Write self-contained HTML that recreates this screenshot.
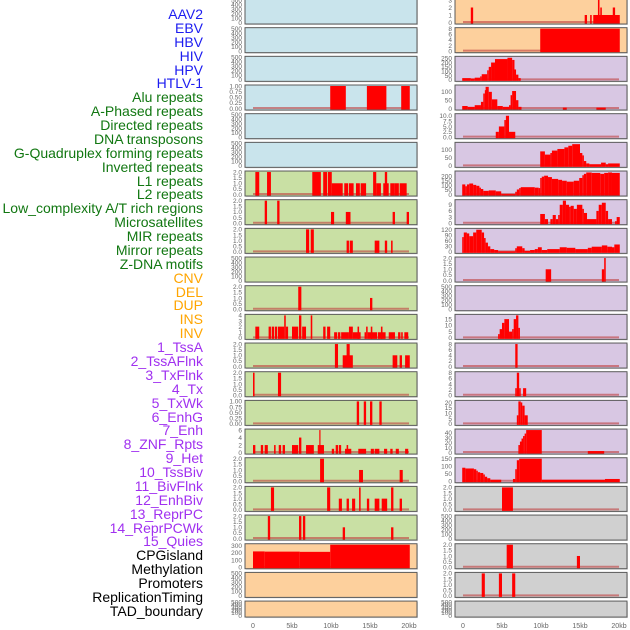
<!DOCTYPE html>
<html><head><meta charset="utf-8">
<style>
html,body{margin:0;padding:0;background:#fff;width:630px;height:630px;overflow:hidden}
#labels{position:absolute;left:0;top:0;width:203px}
.lab{position:absolute;right:0;font:14px "Liberation Sans",sans-serif;white-space:nowrap;line-height:14px}
svg{position:absolute;left:0;top:0}
text{font-family:"Liberation Sans",sans-serif}
</style></head>
<body>
<div id="labels"></div>
<svg id="chart" width="630" height="630"></svg>
<script>
// ---- labels ----
const labelNames = ["AAV2","EBV","HBV","HIV","HPV","HTLV-1","Alu repeats","A-Phased repeats","Directed repeats","DNA transposons","G-Quadruplex forming repeats","Inverted repeats","L1 repeats","L2 repeats","Low_complexity A/T rich regions","Microsatellites","MIR repeats","Mirror repeats","Z-DNA motifs","CNV","DEL","DUP","INS","INV","1_TssA","2_TssAFlnk","3_TxFlnk","4_Tx","5_TxWk","6_EnhG","7_Enh","8_ZNF_Rpts","9_Het","10_TssBiv","11_BivFlnk","12_EnhBiv","13_ReprPC","14_ReprPCWk","15_Quies","CPGisland","Methylation","Promoters","ReplicationTiming","TAD_boundary"];
const labelGroups = [6,13,5,15,5];
const groupColors = ["#1c1cf0","#117711","#ffa500","#a030f0","#000000"];

// ---- x axis ----
const xTicks = [0,5,10,15,20];
const xTickLabels = ["0","5kb","10kb","15kb","20kb"];

// ---- panel backgrounds (left / right) ----
const leftBg  = ["b","b","b","b","b","b","g","g","g","g","g","g","g","g","g","g","g","g","g","p","p","p"];
const rightBg = ["p","p","v","v","v","v","v","v","v","v","v","v","v","v","v","v","v","x","x","x","x","x"];
const leftMax  = [500,500,500,1,500,500,2,2,2,500,2,4,2,2,1,6,2,2,2,310,500,500];
const rightMax = [3,8,260,135,10.5,140,245,11,122,2,500,18,8,8,21,45,150,2,500,2,2,500];
const leftTicks = [[0,100,200,300,400,500],[0,100,200,300,400,500],[0,100,200,300,400,500],[0,0.25,0.5,0.75,1],[0,100,200,300,400,500],[0,100,200,300,400,500],
 [0,0.5,1,1.5,2],[0,0.5,1,1.5,2],[0,0.5,1,1.5,2],[0,100,200,300,400,500],[0,0.5,1,1.5,2],[0,1,2,3,4],[0,0.5,1,1.5,2],[0,0.5,1,1.5,2],[0,0.25,0.5,0.75,1],[0,2,4,6],[0,0.5,1,1.5,2],[0,0.5,1,1.5,2],[0,0.5,1,1.5,2],[0,100,200,300],[0,100,200,300,400,500],[0,100,200,300,400,500]];
const rightTicks = [[0,1,2,3],[0,2,4,6,8],[0,50,100,150,200,250],[0,50,100],[0,2.5,5,7.5,10],[0,50,100],[0,50,100,150,200],[0,3,6,9],[0,30,60,90,120],[0,0.5,1,1.5,2],[0,100,200,300,400,500],[0,5,10,15],[0,2,4,6,8],[0,2,4,6,8],[0,5,10,15,20],[0,10,20,30,40],[0,50,100,150],[0,0.5,1,1.5,2],[0,100,200,300,400,500],[0,0.5,1,1.5,2],[0,0.5,1,1.5,2],[0,100,200,300,400,500]];

// ---- bar data: [startKb, endKb, value] ----
const L3 = [[9.9,11.9,1],[14.6,17.1,1],[19.0,20.1,1]];
const L6 = [[0.3,0.8,2],[1.8,2.3,2],[7.6,8.7,2],[9.0,9.5,2],[9.6,10.1,2],[10.1,11.5,1],[11.7,12.2,1],[12.3,12.9,1],[13.2,13.7,1],[13.8,14.5,1],[15.4,15.8,2],[15.8,16.4,1],[16.7,17.4,1],[16.9,17.2,2],[17.6,18.1,1],[18.1,18.7,1],[18.8,19.7,1]];
const L7 = [[1.5,1.8,2],[3.1,3.4,2],[10.0,10.4,1],[11.9,12.5,1],[17.9,18.2,1],[19.7,20.0,1]];
const L8 = [[6.8,7.2,2],[7.4,7.8,2],[12.0,12.3,1],[12.4,12.8,1],[15.6,16.2,1],[16.9,17.2,1],[17.7,17.9,1]];
const L10 = [[5.8,6.2,2],[15.0,15.3,1]];
const L11 = [[0.3,0.8,2],[2.0,2.3,2],[2.4,2.7,2],[2.8,3.1,2],[3.2,4.0,2],[4.0,4.2,4],[4.2,4.5,2],[5.0,5.8,2],[5.9,6.2,4],[6.3,6.8,2],[7.4,7.6,4],[9.0,9.3,2],[9.5,9.9,2],[10.4,10.8,1],[10.9,11.2,1],[11.3,12.3,1],[12.3,12.8,2],[12.8,13.8,1],[13.4,13.6,2],[14.3,14.5,1],[14.5,14.7,2],[14.7,15.9,1],[15.1,15.3,2],[16.0,17.0,1],[16.4,16.6,2],[17.4,18.2,1],[18.6,18.9,1],[19.0,19.2,1],[19.4,19.9,1]];
const L12 = [[10.5,10.9,2],[11.5,12.8,1],[12.0,12.4,2],[17.9,18.5,1],[18.8,19.1,1],[19.5,20.1,1]];
const L13 = [[0,0.2,2],[3.2,3.6,2]];
const L14 = [[13.3,13.6,1],[14.2,14.5,1],[15.0,15.3,1],[16.2,16.5,1]];
const L15 = [[0,0.3,2],[1.0,1.3,2],[1.5,1.9,2],[2.7,2.9,2],[3.3,3.6,2],[3.8,4.1,2],[5.0,5.8,2],[5.9,6.2,4],[6.8,7.8,2],[8.3,9.1,2],[8.5,8.6,6],[10.1,10.4,1],[10.6,10.9,2],[11.0,11.3,2],[11.8,12.6,1],[12.0,12.2,2],[13.5,14.5,1],[15.1,15.5,1],[15.6,16.2,1],[16.8,17.2,1],[17.6,17.9,1],[18.3,18.7,1],[19.5,19.9,1]];
const L16 = [[8.6,9.1,2],[13.6,14.1,1],[18.8,19.2,1]];
const L17 = [[2.3,2.7,2],[9.5,9.9,2],[11.0,11.4,1],[12.0,12.3,1],[12.7,13.1,1],[13.6,13.8,2],[14.6,14.9,1],[15.6,16.2,1],[16.5,17.2,1],[17.7,18.0,2],[18.8,19.1,1]];
const L18 = [[1.9,2.2,2],[5.9,6.2,2],[6.4,6.7,2],[11.5,11.8,1],[17.7,18.0,1]];
const L19 = [[0,1.5,218],[1.5,6.0,215],[6.0,9.9,212],[9.9,20.1,310]];

const R0 = [[1.0,1.3,2],[15.6,15.9,1],[16.3,16.5,1],[16.7,20.1,1],[17.3,17.5,3],[17.6,17.8,2],[19.2,19.5,2]];
const R1 = [[9.9,20.1,8]];
const R2 = [[-0.1,1.0,20],[1.0,1.5,15],[1.5,2.2,25],[2.2,2.4,40],[2.4,3.1,65],[3.1,3.3,110],[3.3,3.6,150],[3.6,4.1,200],[4.1,5.7,240],[5.7,6.3,255],[6.3,6.6,230],[6.6,6.8,120],[6.8,7.1,60],[7.1,7.4,20]];
const R3 = [[-0.1,0.6,15],[0.6,1.5,10],[1.5,2.3,20],[2.3,2.6,40],[2.6,2.8,90],[2.8,2.9,110],[2.9,3.3,130],[3.3,3.7,100],[3.7,4.4,55],[4.4,5.1,15],[5.1,5.9,10],[5.9,6.1,20],[6.1,6.3,80],[6.3,6.8,105],[6.8,7.1,50],[7.1,7.5,10],[12.8,13.3,5],[17.1,18.3,5]];
const R4 = [[4.2,4.6,2.5],[4.6,5.3,5],[5.3,5.5,8],[5.5,5.9,10],[5.9,6.7,2.5]];
const R5 = [[9.9,10.5,90],[10.5,11.2,70],[11.2,11.4,80],[11.4,12.1,95],[12.1,13.0,105],[13.0,13.5,115],[13.5,14.0,125],[14.0,15.0,135],[15.0,15.3,80],[15.3,15.5,65],[15.5,15.8,30],[15.8,16.2,15],[16.2,17.7,10],[17.7,18.3,20],[18.3,18.6,10],[18.6,20.1,15]];
const R6 = [[-0.1,0.3,110],[0.3,0.5,90],[0.5,0.8,110],[0.8,1.3,120],[1.3,1.7,105],[1.7,2.1,95],[2.1,2.3,75],[2.3,2.6,60],[2.6,3.3,40],[3.3,4.2,45],[4.2,4.9,35],[4.9,6.7,5],[6.7,6.9,30],[6.9,7.2,55],[7.2,7.4,70],[7.4,9.2,80],[9.2,9.7,75],[9.7,9.9,70],[9.9,10.1,180],[10.1,10.4,195],[10.4,10.9,205],[10.9,11.4,190],[11.4,12.2,170],[12.2,12.7,160],[12.7,13.3,150],[13.3,14.2,140],[14.2,14.9,150],[14.9,15.3,180],[15.3,15.5,210],[15.5,15.8,225],[15.8,16.5,240],[16.5,17.6,235],[17.6,18.1,225],[18.1,18.6,235],[18.6,19.1,240],[19.1,20.1,235]];
const R7 = [[9.9,10.5,4.5],[10.5,10.9,2],[11.2,11.5,2],[11.5,11.9,4],[11.9,12.2,2],[12.2,12.4,4],[12.4,12.8,9],[12.8,13.2,11],[13.2,13.6,9],[13.6,13.8,8],[13.8,14.2,8.5],[14.2,14.6,7],[14.6,15.3,9],[15.3,15.5,7],[15.5,15.9,5],[15.9,17.1,2],[17.1,17.4,6],[17.4,17.8,9],[17.8,18.3,10],[18.3,18.6,6],[18.6,19.1,2],[19.5,19.7,1],[19.7,20.1,3]];
const R8 = [[-0.1,0.1,80],[0.1,0.5,105],[0.5,0.8,100],[0.8,1.3,85],[1.3,1.7,105],[1.7,2.4,120],[2.4,2.7,105],[2.7,2.9,75],[2.9,3.2,50],[3.2,3.5,30],[3.5,4.0,15],[4.0,4.5,10],[4.5,6.7,3],[6.7,6.9,20],[6.9,7.6,30],[7.6,7.9,20],[7.9,8.6,5],[8.6,9.2,10],[9.2,9.6,15],[9.6,10.1,25],[10.1,10.8,10],[10.8,12.4,15],[12.4,13.3,25],[13.3,14.4,22],[14.4,16.0,15],[16.0,16.5,22],[16.5,17.8,28],[17.8,18.5,35],[18.5,19.1,28],[19.1,19.4,25],[19.4,20.1,40]];
const R9 = [[10.6,11.3,1],[17.8,18.1,1],[18.1,18.3,2]];
const R11 = [[4.5,4.7,3],[4.7,5.0,7],[5.0,5.3,12],[5.3,5.9,15],[5.9,6.3,5],[6.3,6.5,7],[6.5,6.8,15],[6.8,7.1,18],[7.1,7.3,8]];
const R12 = [[6.7,7.0,8]];
const R13 = [[6.7,6.9,2.5],[6.9,7.2,8],[7.2,7.4,2.5],[7.7,8.1,2.5]];
const R14 = [[6.9,7.1,8],[7.1,7.4,21],[7.4,7.6,20],[7.6,7.9,17],[7.9,8.3,8]];
const R15 = [[7.1,7.3,15],[7.3,7.5,22],[7.5,7.7,28],[7.7,7.9,33],[7.9,8.1,38],[8.1,10.1,45],[16.0,18.1,3]];
const R16 = [[-0.1,0.3,90],[0.3,1.4,85],[1.4,1.7,80],[1.7,1.9,70],[1.9,2.2,60],[2.2,2.6,55],[2.6,2.8,45],[2.8,3.1,30],[3.1,3.5,20],[3.5,4.9,10],[6.4,6.7,15],[6.7,6.9,80],[6.9,7.2,140],[7.2,10.1,150],[10.1,18.2,10],[18.2,20.1,15]];
const R17 = [[5.0,6.4,2]];
const R19 = [[5.6,6.4,2],[14.6,15.0,1]];
const R20 = [[2.4,2.8,2],[4.6,5.0,2],[6.3,6.7,2]];

const leftBars = [[],[],[],L3,[],[],L6,L7,L8,[],L10,L11,L12,L13,L14,L15,L16,L17,L18,L19,[],[]];
const rightBars = [R0,R1,R2,R3,R4,R5,R6,R7,R8,R9,[],R11,R12,R13,R14,R15,R16,R17,[],R19,R20,[]];

// ---- rendering ----
const NS = "http://www.w3.org/2000/svg";
const svg = document.getElementById("chart");
const bgColor = {b:"#c9e4ec", g:"#c9e0a4", p:"#fdd09d", v:"#d8c7e3", x:"#d0d0d0"};
function rowTop(r){ return -1 + r*28.67; }
function rowH(r){ return r===21 ? 16 : 25; }
function xScale(col, kb){ return (col===0?253:463) + kb*7.8; }
function yScale(r, v, vmax){ const t=rowTop(r), h=rowH(r); return (t+h-1.5) - (v/vmax)*(h-2.5); }
function mk(tag, attrs){ const e=document.createElementNS(NS,tag); for(const k in attrs) e.setAttribute(k,attrs[k]); return e; }
function fmt(v, ticks){
  const dec = ticks.some(t=>Math.abs(t*4-Math.round(t*4))<1e-9 && t%0.5!==0 && t<=1) ? 2 : (ticks.some(t=>t%1!==0)?1:0);
  return v.toFixed(dec);
}

// labels
const labDiv = document.getElementById("labels");
let li=0;
labelGroups.forEach((n,g)=>{ for(let i=0;i<n;i++,li++){
  const d=document.createElement("div");
  d.className="lab";
  
  
  d.style.top=(li*13.88+7)+"px";
  d.style.color=groupColors[g];
  d.textContent=labelNames[li];
  labDiv.appendChild(d);
}});

function drawPanel(col, r){
  const bgs = col===0?leftBg:rightBg, maxs=col===0?leftMax:rightMax, ticks=col===0?leftTicks:rightTicks, bars=col===0?leftBars:rightBars;
  const x0 = col===0?245:455, w=172, t=rowTop(r), h=rowH(r);
  const g = mk("g",{});
  
  
  g.appendChild(mk("rect",{x:x0+1,y:t+1,width:w,height:h,fill:"#bbb",opacity:0.5}));
  const bg = mk("rect",{x:x0,y:t,width:w,height:h,fill:bgColor[bgs[r]],stroke:"#5a5a5a","stroke-width":1});
  
  
  g.appendChild(bg);
  const vmax = maxs[r];
  if(bars[r].length){
    const bl = mk("line",{x1:xScale(col,0),x2:xScale(col,20),y1:yScale(r,0,vmax)-0.5,y2:yScale(r,0,vmax)-0.5,stroke:"#c04040","stroke-width":2,opacity:0.6});
    
    
    g.appendChild(bl);
  }
  bars[r].forEach(b=>{
    const xa=Math.max(x0+0.5,xScale(col,b[0])), xb=Math.min(x0+w-0.5,xScale(col,b[1]));
    const ya=yScale(r,b[2],vmax), yb=yScale(r,0,vmax);
    const rc = mk("rect",{x:xa,y:Math.max(t+0.5,ya),width:Math.max(1.2,xb-xa),height:yb-Math.max(t+0.5,ya)+1,fill:"#ff0000"});
    
    
    g.appendChild(rc);
  });
  ticks[r].forEach(v=>{
    const tx = mk("text",{x:x0-3,y:yScale(r,v,vmax)+2.3,"font-size":6.5,fill:"#666","text-anchor":"end"});
    
    
    tx.textContent = fmt(v, ticks[r]);
    g.appendChild(tx);
  });
  svg.appendChild(g);
}
for(let r=0;r<22;r++){ drawPanel(0,r); drawPanel(1,r); }
[0,1].forEach(col=>{
  xTicks.forEach((v,i)=>{
    const tx = mk("text",{x:xScale(col,v),y:628,"font-size":7,fill:"#666","text-anchor":"middle"});
    
    
    tx.textContent = xTickLabels[i];
    svg.appendChild(tx);
  });
});
</script>
</body></html>
